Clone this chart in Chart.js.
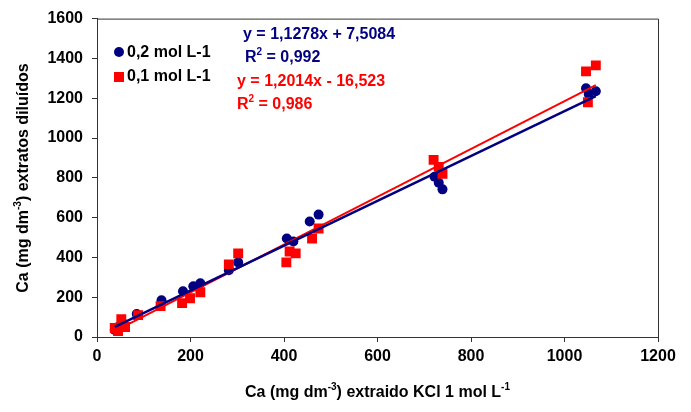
<!DOCTYPE html>
<html>
<head>
<meta charset="utf-8">
<script src="https://cdn.jsdelivr.net/npm/chart.js@4.4.1/dist/chart.umd.min.js"></script>
<style>
  html, body { margin: 0; padding: 0; background: #fff; }
  #wrap { width: 691px; height: 412px; }
</style>
</head>
<body>
<div id="wrap"><canvas id="chart" width="691" height="412"></canvas></div>
<script>
// data
const blueX = [38, 45, 55, 85, 138, 184, 206, 221, 282, 302, 406, 420, 455, 474, 722, 731, 739, 1046, 1052, 1067];
const blueY = [35, 50, 70, 115, 185, 230, 255, 270, 335, 375, 495, 480, 580, 615, 805, 775, 742, 1250, 1220, 1235];
const redX = [38, 45, 52, 60, 88, 136, 182, 199, 221, 282, 302, 405, 412, 425, 460, 474, 720, 731, 739, 1046, 1050, 1067];
const redY = [45, 30, 90, 50, 110, 155, 170, 195, 225, 365, 420, 375, 430, 420, 495, 545, 890, 855, 820, 1335, 1180, 1365];
const seriesLabels = ['0,2 mol L-1', '0,1 mol L-1'];
// regression lines: [slope, intercept]
const blueFit = [1.1278, 7.5084];
const redFit = [1.2014, -16.523];
const xTicks = [0, 200, 400, 600, 800, 1000, 1200];
const yTicks = [0, 200, 400, 600, 800, 1000, 1200, 1400, 1600];

const BLUE = '#000080';
const RED = '#ff0000';
const FONT = '"Liberation Sans", Arial, sans-serif';

function points(xs, ys) {
    return xs.map((x, i) => ({ x: x, y: ys[i] }));
}

function fitLine(xs, fit) {
    const lo = Math.min(...xs), hi = Math.max(...xs);
    return [lo, hi].map(x => ({ x: x, y: fit[0] * x + fit[1] }));
}

// draw text pieces; pieces marked sup are raised and smaller
function drawRich(ctx, parts, x, y, size, color, align) {
    ctx.save();
    ctx.fillStyle = color;
    ctx.textBaseline = 'middle';
    ctx.textAlign = 'left';
    let total = 0;
    parts.forEach(p => {
        ctx.font = 'bold ' + (p.sup ? Math.round(size * 0.62) : size) + 'px ' + FONT;
        total += ctx.measureText(p.t).width;
    });
    let cx = align === 'center' ? x - total / 2 : x;
    parts.forEach(p => {
        ctx.font = 'bold ' + (p.sup ? Math.round(size * 0.62) : size) + 'px ' + FONT;
        ctx.fillText(p.t, cx, p.sup ? y - size * 0.38 : y);
        cx += ctx.measureText(p.t).width;
    });
    ctx.restore();
}

const annotations = {
    id: 'annotations',
    afterDraw(chart) {
        const ctx = chart.ctx;
        const a = chart.chartArea;

        // frame top and right
        ctx.save();
        ctx.strokeStyle = '#333';
        ctx.lineWidth = 1;
        ctx.beginPath();
        ctx.moveTo(a.left, a.top + 0.5);
        ctx.lineTo(a.right + 0.5, a.top + 0.5);
        ctx.lineTo(a.right + 0.5, a.bottom);
        ctx.stroke();
        ctx.restore();

        // legend
        ctx.save();
        ctx.fillStyle = BLUE;
        ctx.beginPath();
        ctx.arc(119, 52, 5, 0, Math.PI * 2);
        ctx.fill();
        ctx.fillStyle = RED;
        ctx.fillRect(114, 72, 10, 10);
        ctx.restore();
        drawRich(ctx, [{ t: seriesLabels[0] }], 127, 53, 16, '#000');
        drawRich(ctx, [{ t: seriesLabels[1] }], 127, 77, 16, '#000');

        // equations
        drawRich(ctx, [{ t: 'y = 1,1278x + 7,5084' }], 243, 35, 16, BLUE);
        drawRich(ctx, [{ t: 'R' }, { t: '2', sup: true }, { t: ' = 0,992' }], 245, 58, 16, BLUE);
        drawRich(ctx, [{ t: 'y = 1,2014x - 16,523' }], 237, 82, 16, RED);
        drawRich(ctx, [{ t: 'R' }, { t: '2', sup: true }, { t: ' = 0,986' }], 237, 105, 16, RED);

        // axis titles
        drawRich(ctx, [{ t: 'Ca (mg dm' }, { t: '-3', sup: true }, { t: ') extraido KCl 1 mol L' }, { t: '-1', sup: true }],
            (a.left + a.right) / 2, 393, 16, '#000', 'center');
        ctx.save();
        ctx.translate(24, 178);
        ctx.rotate(-Math.PI / 2);
        drawRich(ctx, [{ t: 'Ca (mg dm' }, { t: '-3', sup: true }, { t: ') extratos diluídos' }], 0, 0, 16, '#000', 'center');
        ctx.restore();
    }
};

new Chart(document.getElementById('chart'), {
    type: 'scatter',
    data: {
        datasets: [
            {
                label: 'fit 0,2',
                type: 'line',
                data: fitLine(blueX, blueFit),
                borderColor: BLUE,
                borderWidth: 2.5,
                pointRadius: 0,
                fill: false,
                order: 0
            },
            {
                label: 'fit 0,1',
                type: 'line',
                data: fitLine(redX, redFit),
                borderColor: RED,
                borderWidth: 2,
                pointRadius: 0,
                fill: false,
                order: 1
            },
            {
                label: seriesLabels[1],
                data: points(redX, redY),
                backgroundColor: RED,
                borderWidth: 0,
                pointStyle: 'rect',
                pointRadius: 7,
                order: 2
            },
            {
                label: seriesLabels[0],
                data: points(blueX, blueY),
                backgroundColor: BLUE,
                borderWidth: 0,
                pointStyle: 'circle',
                pointRadius: 5,
                order: 3
            }
        ]
    },
    options: {
        responsive: false,
        animation: false,
        layout: { padding: { top: 16, right: 33, left: 0, bottom: 0 } },
        plugins: {
            legend: { display: false },
            tooltip: { enabled: false }
        },
        scales: {
            x: {
                type: 'linear',
                min: 0,
                max: 1200,
                afterBuildTicks: s => { s.ticks = xTicks.map(v => ({ value: v })); },
                afterFit: s => { s.height = 75; },
                grid: { drawOnChartArea: false, drawTicks: true, tickLength: 5, color: '#333' },
                border: { color: '#333', width: 1 },
                ticks: {
                    color: '#000', padding: 5, maxRotation: 0,
                    font: { family: FONT, size: 16, weight: 'bold' },
                    callback: v => String(v)
                }
            },
            y: {
                min: 0,
                max: 1600,
                afterBuildTicks: s => { s.ticks = yTicks.map(v => ({ value: v })); },
                afterFit: s => { s.width = 97; },
                grid: { drawOnChartArea: false, drawTicks: true, tickLength: 5, color: '#333' },
                border: { color: '#333', width: 1 },
                ticks: {
                    color: '#000', padding: 9,
                    font: { family: FONT, size: 16, weight: 'bold' },
                    callback: v => String(v)
                }
            }
        }
    },
    plugins: [annotations]
});
</script>
</body>
</html>
